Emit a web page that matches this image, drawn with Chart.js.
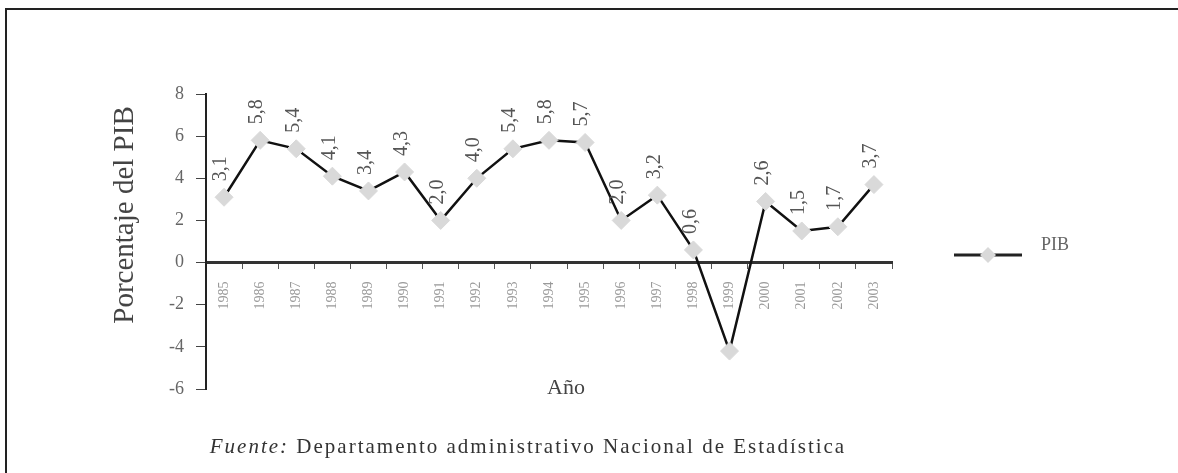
<!DOCTYPE html>
<html>
<head>
<meta charset="utf-8">
<script src="https://cdn.jsdelivr.net/npm/chart.js@4/dist/chart.umd.min.js"></script>
<style>
  html, body { margin: 0; padding: 0; background: #fff; }
  #wrap { position: relative; width: 1178px; height: 473px; overflow: hidden; background: #fff; }
  #frame { position: absolute; left: 5px; top: 8px; width: 1200px; height: 500px;
           border-top: 2px solid #222; border-left: 2px solid #222; box-sizing: border-box; }
  canvas { position: absolute; left: 0; top: 0; }
  #caption { position: absolute; left: 0; width: 1056px; top: 434px; text-align: center;
             font-family: "Liberation Serif", "Times New Roman", serif; font-size: 21px;
             color: #333; letter-spacing: 2px; white-space: nowrap; }
</style>
</head>
<body>
<div id="wrap">
  <div id="frame"></div>
  <canvas id="c" width="1178" height="473"></canvas>
  <div id="caption"><i>Fuente:</i> Departamento administrativo Nacional de Estadística</div>
</div>
<script>
// ---- data ----
const years = ["1985","1986","1987","1988","1989","1990","1991","1992","1993","1994",
               "1995","1996","1997","1998","1999","2000","2001","2002","2003"];
const pib = [3.1, 5.8, 5.4, 4.1, 3.4, 4.3, 2.0, 4.0, 5.4, 5.8,
             5.7, 2.0, 3.2, 0.6, -4.2, 2.9, 1.5, 1.7, 3.7];
const pointLabels = ["3,1","5,8","5,4","4,1","3,4","4,3","2,0","4,0","5,4","5,8",
                     "5,7","2,0","3,2","0,6","","2,6","1,5","1,7","3,7"];
const yTicks = [-6, -4, -2, 0, 2, 4, 6, 8];
const seriesName = "PIB";
const yTitle = "Porcentaje del PIB";
const xTitle = "Año";

const SERIF = '"Liberation Serif", "Times New Roman", serif';
const MARKER = '#d9d9d9';

const extras = {
  id: 'extras',
  afterDatasetsDraw(chart) {
    const ctx = chart.ctx;
    const meta = chart.getDatasetMeta(0);
    ctx.save();
    ctx.fillStyle = '#555';
    ctx.font = '20px ' + SERIF;
    meta.data.forEach((p, i) => {
      const t = pointLabels[i];
      if (!t) return;
      ctx.save();
      ctx.translate(p.x - 3, p.y - 16);
      ctx.rotate(-Math.PI / 2);
      ctx.textAlign = 'left';
      ctx.textBaseline = 'middle';
      ctx.fillText(t, 0, 0);
      ctx.restore();
    });
    ctx.restore();
  },
  afterDraw(chart) {
    const ctx = chart.ctx;
    ctx.save();
    // y title
    ctx.fillStyle = '#444';
    ctx.font = '29px ' + SERIF;
    ctx.translate(125, 215);
    ctx.rotate(-Math.PI / 2);
    ctx.textAlign = 'center';
    ctx.textBaseline = 'middle';
    ctx.fillText(yTitle, 0, 0);
    ctx.restore();

    ctx.save();
    ctx.fillStyle = '#444';
    ctx.font = '22px ' + SERIF;
    ctx.textAlign = 'center';
    ctx.textBaseline = 'middle';
    ctx.fillText(xTitle, 566, 388);
    ctx.restore();

    // legend
    ctx.save();
    ctx.strokeStyle = '#222';
    ctx.lineWidth = 3;
    ctx.beginPath();
    ctx.moveTo(954, 255);
    ctx.lineTo(1022, 255);
    ctx.stroke();
    ctx.fillStyle = MARKER;
    ctx.beginPath();
    ctx.moveTo(988, 247); ctx.lineTo(996, 255); ctx.lineTo(988, 263); ctx.lineTo(980, 255);
    ctx.closePath();
    ctx.fill();
    ctx.fillStyle = '#666';
    ctx.font = '18px ' + SERIF;
    ctx.textAlign = 'left';
    ctx.textBaseline = 'middle';
    ctx.fillText(seriesName, 1041, 245);
    ctx.restore();
  }
};

new Chart(document.getElementById('c'), {
  type: 'line',
  data: {
    labels: years,
    datasets: [{
      label: seriesName,
      data: pib,
      borderColor: '#111',
      borderWidth: 2.5,
      tension: 0,
      pointStyle: 'rectRot',
      pointRadius: 9,
      pointBackgroundColor: MARKER,
      pointBorderColor: MARKER,
      pointBorderWidth: 1
    }]
  },
  options: {
    responsive: false,
    animation: false,
    devicePixelRatio: 1,
    layout: { padding: { left: 0, right: 286, top: 94, bottom: 84 } },
    plugins: { legend: { display: false }, tooltip: { enabled: false } },
    scales: {
      x: {
        type: 'category',
        offset: true,
        position: { y: 0 },
        afterFit(s) { s.height = 0; },
        grid: { drawOnChartArea: false, drawTicks: true, tickLength: 5, color: '#555', offset: true },
        border: { display: true, color: '#333', width: 3 },
        ticks: {
          autoSkip: false, minRotation: 90, maxRotation: 90, padding: 14,
          color: '#999', font: { family: SERIF, size: 14 }
        }
      },
      y: {
        min: -6, max: 8,
        afterFit(s) { s.width = 206; },
        afterBuildTicks(s) { s.ticks = yTicks.map(v => ({ value: v })); },
        grid: { drawOnChartArea: false, drawTicks: true, tickLength: 10, color: '#444' },
        border: { display: true, color: '#222', width: 2 },
        ticks: { padding: 12, color: '#666', font: { family: SERIF, size: 18 } }
      }
    }
  },
  plugins: [extras]
});
</script>
</body>
</html>
